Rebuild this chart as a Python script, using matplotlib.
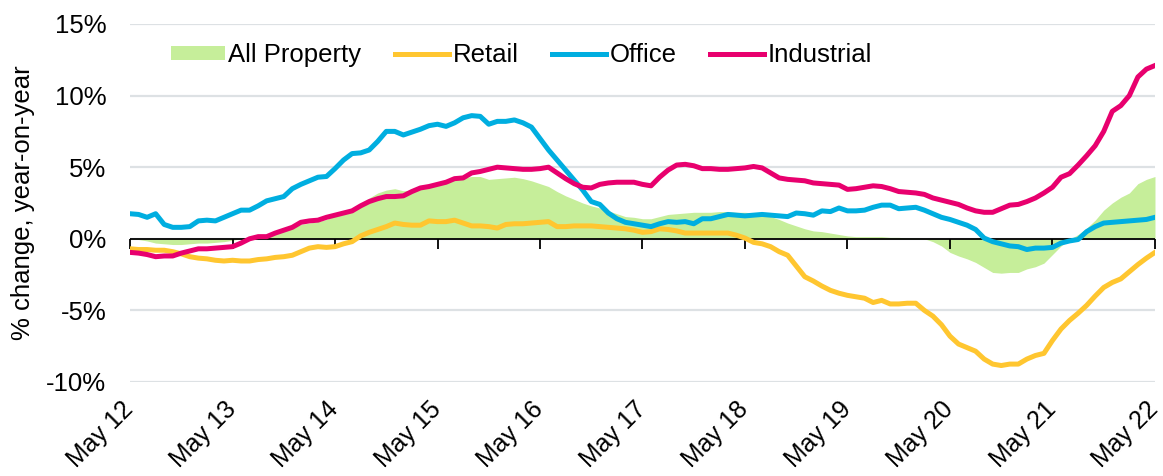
import matplotlib
matplotlib.use("Agg")
import matplotlib.pyplot as plt
import matplotlib.markers as mmarkers
import matplotlib.transforms as mtransforms
import numpy as np

# monthly year-on-year % change, May 2012 .. May 2022
all_property = [
    0.0, -0.05, -0.15, -0.3, -0.35, -0.4, -0.4, -0.35, -0.3, -0.3, -0.25, -0.2,
    -0.1, 0.0, 0.1, 0.15, 0.3, 0.45, 0.65, 0.8, 1.0, 1.1, 1.2, 1.35,
    1.6, 1.85, 2.05, 2.4, 2.85, 3.2, 3.4, 3.5, 3.35, 3.4, 3.65, 3.75,
    3.85, 3.95, 4.1, 4.25, 4.35, 4.35, 4.15, 4.2, 4.25, 4.3, 4.2, 4.05,
    3.85, 3.65, 3.3, 3.0, 2.75, 2.5, 2.3, 2.15, 1.95, 1.75, 1.55, 1.5,
    1.4, 1.4, 1.55, 1.7, 1.75, 1.8, 1.85, 1.85, 1.85, 1.9, 1.9, 1.85,
    1.85, 1.8, 1.7, 1.55, 1.35, 1.1, 0.9, 0.7, 0.55, 0.5, 0.4, 0.3,
    0.2, 0.15, 0.15, 0.15, 0.15, 0.1, 0.1, 0.05, 0.05, 0.0, -0.2, -0.5,
    -0.95, -1.2, -1.4, -1.65, -2.0, -2.35, -2.4, -2.35, -2.35, -2.1, -1.95, -1.7,
    -1.1, -0.5, -0.05, 0.3, 0.75, 1.3, 2.0, 2.5, 2.9, 3.2, 3.85, 4.15,
    4.35,
]
retail = [
    -0.7, -0.75, -0.75, -0.8, -0.8, -0.9, -1.05, -1.25, -1.35, -1.4, -1.5, -1.55,
    -1.5, -1.55, -1.55, -1.45, -1.4, -1.3, -1.25, -1.15, -0.9, -0.65, -0.55, -0.6,
    -0.55, -0.35, -0.2, 0.2, 0.45, 0.65, 0.85, 1.1, 1.0, 0.95, 0.95, 1.25,
    1.2, 1.2, 1.3, 1.1, 0.9, 0.9, 0.85, 0.75, 1.0, 1.05, 1.05, 1.1,
    1.15, 1.2, 0.85, 0.85, 0.9, 0.9, 0.9, 0.85, 0.8, 0.75, 0.7, 0.6,
    0.45, 0.5, 0.7, 0.65, 0.55, 0.4, 0.4, 0.4, 0.4, 0.4, 0.4, 0.25,
    0.05, -0.25, -0.35, -0.55, -0.9, -1.15, -1.9, -2.65, -2.95, -3.3, -3.6, -3.8,
    -3.95, -4.05, -4.15, -4.45, -4.3, -4.55, -4.55, -4.5, -4.5, -5.0, -5.4, -6.0,
    -6.8, -7.35, -7.6, -7.85, -8.4, -8.75, -8.85, -8.75, -8.75, -8.4, -8.15, -8.0,
    -7.1, -6.3, -5.7, -5.2, -4.65, -4.0, -3.4, -3.05, -2.8, -2.3, -1.8, -1.35,
    -0.95,
]
office = [
    1.75, 1.7, 1.5, 1.75, 1.0, 0.8, 0.8, 0.85, 1.25, 1.3, 1.25, 1.5,
    1.75, 2.0, 2.0, 2.3, 2.65, 2.8, 2.95, 3.5, 3.8, 4.05, 4.3, 4.35,
    4.9, 5.5, 5.95, 6.0, 6.2, 6.8, 7.5, 7.5, 7.25, 7.45, 7.65, 7.9,
    8.0, 7.85, 8.1, 8.45, 8.6, 8.55, 8.0, 8.2, 8.2, 8.3, 8.1, 7.8,
    7.0, 6.2, 5.5, 4.8, 4.1, 3.4, 2.6, 2.4, 1.8, 1.4, 1.15, 1.05,
    0.95, 0.85, 1.05, 1.2, 1.15, 1.2, 1.05, 1.4, 1.4, 1.55, 1.7, 1.65,
    1.6, 1.65, 1.7, 1.65, 1.6, 1.55, 1.8, 1.75, 1.65, 1.95, 1.9, 2.15,
    1.95, 1.95, 2.0, 2.2, 2.35, 2.35, 2.1, 2.15, 2.2, 2.0, 1.75, 1.5,
    1.35, 1.15, 0.95, 0.65, 0.05, -0.2, -0.35, -0.5, -0.55, -0.75, -0.65, -0.65,
    -0.6, -0.3, -0.15, -0.05, 0.5, 0.85, 1.1, 1.15, 1.2, 1.25, 1.3, 1.35,
    1.5,
]
industrial = [
    -0.95, -1.0, -1.1, -1.25, -1.2, -1.2, -1.0, -0.85, -0.7, -0.7, -0.65, -0.6,
    -0.55, -0.3, 0.0, 0.15, 0.15, 0.4, 0.6, 0.8, 1.15, 1.25, 1.3, 1.5,
    1.65, 1.8, 1.95, 2.3, 2.6, 2.8, 2.95, 2.95, 3.0, 3.3, 3.55, 3.65,
    3.8, 3.95, 4.2, 4.25, 4.6, 4.7, 4.85, 5.0, 4.95, 4.9, 4.85, 4.85,
    4.9, 5.0, 4.6, 4.2, 3.85, 3.6, 3.55, 3.8, 3.9, 3.95, 3.95, 3.95,
    3.8, 3.7, 4.3, 4.8, 5.15, 5.2, 5.1, 4.9, 4.9, 4.85, 4.85, 4.9,
    4.95, 5.05, 4.95, 4.6, 4.25, 4.15, 4.1, 4.05, 3.9, 3.85, 3.8, 3.75,
    3.45, 3.5, 3.6, 3.7, 3.65, 3.5, 3.3, 3.25, 3.2, 3.1, 2.85, 2.7,
    2.55, 2.4, 2.15, 1.95, 1.85, 1.85, 2.1, 2.35, 2.4, 2.6, 2.85, 3.2,
    3.6, 4.3, 4.55, 5.15, 5.8, 6.5, 7.5, 8.9, 9.3, 10.0, 11.3, 11.85,
    12.1,
]
tick_labels = ["May 12", "May 13", "May 14", "May 15", "May 16", "May 17",
               "May 18", "May 19", "May 20", "May 21", "May 22"]

plt.rcParams["font.family"] = ["Liberation Sans", "DejaVu Sans"]
plt.rcParams["font.size"] = 18.5

x = np.arange(len(all_property))
fig = plt.figure(figsize=(11.63, 4.76), dpi=100)
ax = fig.add_axes([0.1118, 0.1975, 0.8813, 0.7521])

ax.fill_between(x, 0, all_property, color="#c6ee9a", linewidth=0, label="All Property", zorder=1)
ax.plot(x, retail, color="#ffc630", lw=3.6, label="Retail", zorder=3)
ax.plot(x, office, color="#00aee0", lw=3.6, label="Office", zorder=4)
ax.plot(x, industrial, color="#e8006e", lw=3.6, label="Industrial", zorder=5)

ax.set_ylim(-10, 15)
ax.set_xlim(0, 120)
ax.set_yticks([-10, -5, 0, 5, 10, 15])
ax.set_yticklabels([f"{v}%" for v in [-10, -5, 0, 5, 10, 15]])
ax.yaxis.grid(True, color="#dde1e4", lw=1.6, zorder=0)
ax.set_axisbelow(True)
for s in ["top", "right", "left", "bottom"]:
    ax.spines[s].set_visible(False)
ax.tick_params(axis="y", length=0, pad=17)

# zero line with year tick marks
year_ticks = np.arange(0, 121, 12)
ax.axhline(0, color="black", lw=1.3, zorder=2)
ax.plot(year_ticks, np.zeros(len(year_ticks)), ls="none", marker=mmarkers.TICKDOWN,
        markersize=7, markeredgewidth=1.3, color="black", zorder=2, clip_on=False)

ax.set_xticks(year_ticks)
ax.set_xticklabels(tick_labels, rotation=45, ha="right", rotation_mode="anchor", fontsize=18)
ax.tick_params(axis="x", length=0, pad=11)
shift = mtransforms.ScaledTranslation(-9 / 100, 0, fig.dpi_scale_trans)
for lab in ax.get_xticklabels():
    lab.set_transform(lab.get_transform() + shift)

ax.set_ylabel("% change, year-on-year", labelpad=8)

ax.legend(loc="center", bbox_to_anchor=(0.382, 0.913), ncol=4, frameon=False,
          handlelength=2.1, handleheight=0.5, handletextpad=0.15, columnspacing=1.3,
          borderpad=0, borderaxespad=0)

fig.savefig("out.png", dpi=100)
